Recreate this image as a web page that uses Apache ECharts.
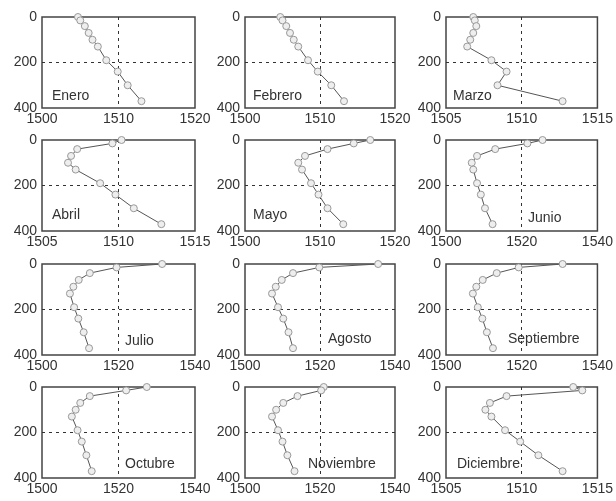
<!DOCTYPE html>
<html>
<head>
<meta charset="utf-8">
<script src="https://cdn.jsdelivr.net/npm/echarts@6/dist/echarts.min.js"></script>
<style>
  html, body { margin: 0; padding: 0; background: #fff; }
  #chart { width: 616px; height: 501px; }
</style>
</head>
<body>
<div id="chart"></div>
<script>
// profundidades (m) comunes a todos los meses
const depths = [0, 15, 40, 70, 100, 130, 190, 240, 300, 370]

const months = ['Enero', 'Febrero', 'Marzo', 'Abril', 'Mayo', 'Junio',
  'Julio', 'Agosto', 'Septiembre', 'Octubre', 'Noviembre', 'Diciembre']

// velocidad del sonido (m/s) por mes
const enero      = [1504.7, 1505.0, 1505.6, 1506.1, 1506.6, 1507.3, 1508.4, 1509.9, 1511.2, 1513.0]
const febrero    = [1504.7, 1505.0, 1505.5, 1506.0, 1506.5, 1507.1, 1508.4, 1509.7, 1511.5, 1513.2]
const marzo      = [1506.8, 1506.9, 1507.0, 1506.8, 1506.6, 1506.4, 1508.0, 1509.0, 1508.4, 1512.7]
const abril      = [1510.2, 1509.6, 1507.3, 1506.9, 1506.7, 1507.2, 1508.8, 1509.8, 1511.0, 1512.8]
const mayo       = [1516.7, 1514.5, 1511.0, 1508.0, 1507.1, 1507.6, 1508.8, 1509.8, 1511.0, 1513.1]
const junio      = [1525.5, 1521.5, 1513.0, 1508.2, 1506.8, 1507.2, 1508.2, 1509.2, 1510.3, 1512.3]
const julio      = [1531.4, 1519.5, 1512.5, 1509.6, 1508.2, 1507.3, 1508.4, 1509.5, 1510.9, 1512.3]
const agosto     = [1535.5, 1519.8, 1512.8, 1509.8, 1508.2, 1507.2, 1508.8, 1510.2, 1511.6, 1512.8]
const septiembre = [1530.8, 1519.2, 1513.4, 1509.7, 1508.0, 1507.1, 1508.4, 1509.6, 1510.8, 1512.4]
const octubre    = [1527.4, 1522.0, 1512.5, 1510.0, 1508.8, 1507.8, 1509.3, 1510.4, 1511.6, 1513.0]
const noviembre  = [1521.0, 1520.3, 1514.0, 1510.2, 1508.3, 1507.2, 1508.8, 1510.0, 1511.3, 1513.2]
const diciembre  = [1513.4, 1514.0, 1509.0, 1507.9, 1507.6, 1508.0, 1508.9, 1509.9, 1511.1, 1512.7]

const speeds = [enero, febrero, marzo, abril, mayo, junio,
  julio, agosto, septiembre, octubre, noviembre, diciembre]

// rango del eje x de cada mes: [min, max, intervalo]
const xRanges = [
  [1500, 1520, 10], [1500, 1520, 10], [1505, 1515, 5],
  [1505, 1515, 5], [1500, 1520, 10], [1500, 1540, 20],
  [1500, 1540, 20], [1500, 1540, 20], [1500, 1540, 20],
  [1500, 1540, 20], [1500, 1540, 20], [1505, 1515, 5]
]

const depthTicks = [0, 400, 200]

// layout
const colLeft = [42, 245, 446]
const colWidth = [153, 150, 152]
const rowTop = [17, 140, 264, 387]
const rowHeight = 91

// posicion de la etiqueta del mes dentro de cada panel
const labelPos = [
  [52, 89], [253, 89], [453, 89],
  [52, 208], [253, 208], [528, 211],
  [125, 334], [328, 332], [508, 332],
  [125, 457], [308, 457], [457, 457]
]

const chart = echarts.init(document.getElementById('chart'))

const grid = []
const xAxis = []
const yAxis = []
const series = []
const graphic = []

const fontFamily = '"Liberation Sans", Arial, sans-serif'
const dashStyle = { color: '#333', width: 1, type: [3, 4] }
const plain = v => String(v)

months.forEach((name, i) => {
  const r = Math.floor(i / 3)
  const c = i % 3
  grid.push({
    left: colLeft[c],
    top: rowTop[r],
    width: colWidth[c],
    height: rowHeight,
    show: true,
    borderColor: '#444',
    borderWidth: 1.5,
    backgroundColor: 'transparent'
  })
  xAxis.push({
    type: 'value',
    gridIndex: i,
    min: xRanges[i][0],
    max: xRanges[i][1],
    interval: xRanges[i][2],
    axisLine: { show: false },
    axisTick: { show: false },
    axisLabel: { color: '#333', fontSize: 14, fontFamily: fontFamily, margin: 4, formatter: plain },
    splitLine: {
      show: true,
      lineStyle: dashStyle,
      showMinLine: false,
      showMaxLine: false
    }
  })
  yAxis.push({
    type: 'value',
    gridIndex: i,
    inverse: true,
    min: depthTicks[0],
    max: depthTicks[1],
    interval: depthTicks[2],
    axisLine: { show: false },
    axisTick: { show: false },
    axisLabel: { color: '#333', fontSize: 14, fontFamily: fontFamily, margin: 5, formatter: plain },
    splitLine: {
      show: true,
      lineStyle: dashStyle,
      showMinLine: false,
      showMaxLine: false
    }
  })
  series.push({
    type: 'line',
    xAxisIndex: i,
    yAxisIndex: i,
    data: speeds[i].map((v, k) => [v, depths[k]]),
    symbol: 'circle',
    symbolSize: 7,
    lineStyle: { color: '#555', width: 1 },
    itemStyle: { color: '#eee', borderColor: '#999', borderWidth: 1 },
    silent: true,
    animation: false
  })
  graphic.push({
    type: 'text',
    left: labelPos[i][0],
    top: labelPos[i][1],
    style: {
      text: name,
      fill: '#333',
      font: '14px ' + fontFamily
    }
  })
})

chart.setOption({
  backgroundColor: '#fff',
  animation: false,
  grid: grid,
  xAxis: xAxis,
  yAxis: yAxis,
  series: series,
  graphic: graphic
})
</script>
</body>
</html>
